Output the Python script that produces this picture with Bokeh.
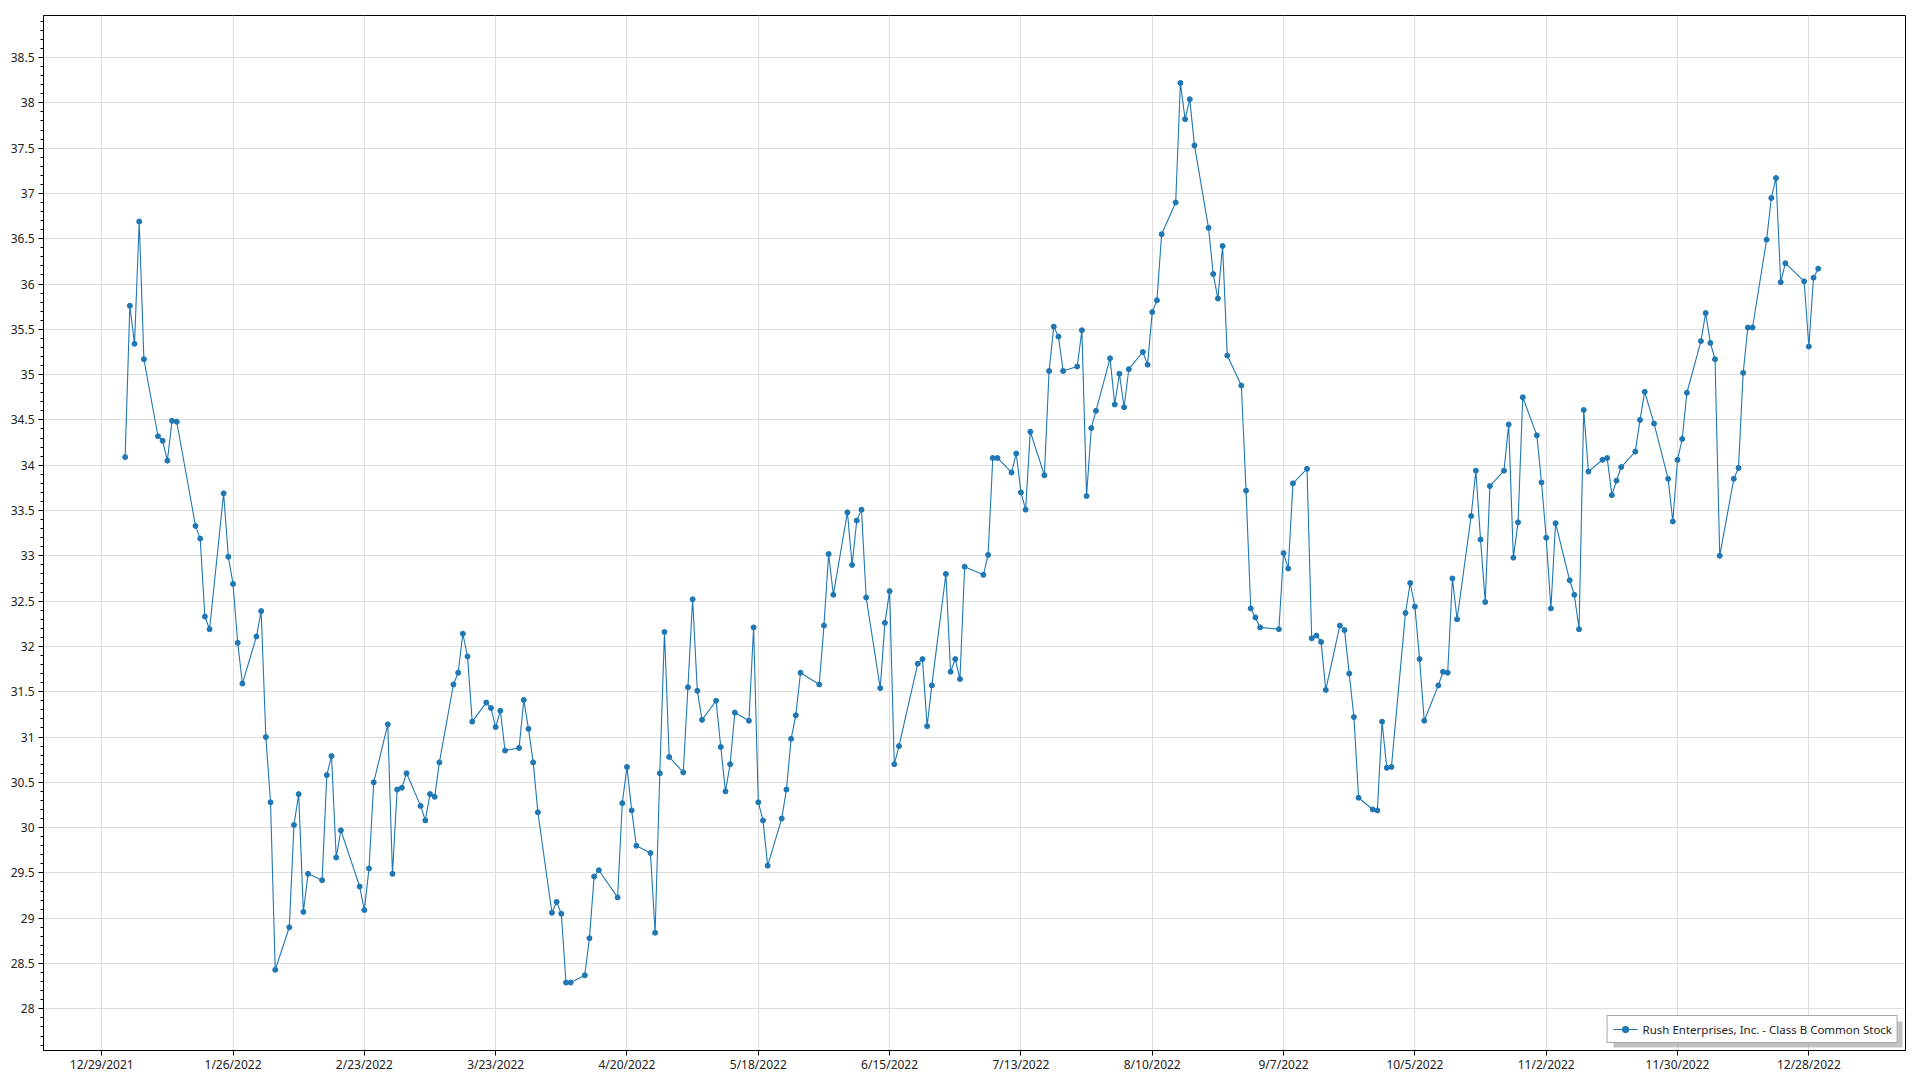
import pandas as pd
from bokeh.plotting import figure
from bokeh.models import (Range1d, FixedTicker, SingleIntervalTicker, BoxAnnotation,
                          NumeralTickFormatter, Legend, LegendItem, ColumnDataSource)
from bokeh.embed import file_html
from bokeh.resources import INLINE

SERIES_NAME = "Rush Enterprises, Inc. - Class B Common Stock"

# NYSE holidays 2022 (non-trading weekdays)
HOLIDAYS = ["2022-01-17", "2022-02-21", "2022-04-15", "2022-05-30", "2022-06-20",
            "2022-07-04", "2022-09-05", "2022-11-24", "2022-12-26"]

# Daily closing prices per month (trading days in order)
JAN = [34.09, 35.76, 35.34, 36.69, 35.17, 34.32, 34.27, 34.05, 34.49, 34.48,
       33.33, 33.19, 32.33, 32.19, 33.69, 32.99, 32.69, 32.04, 31.59, 32.11]
FEB = [32.39, 31.00, 30.28, 28.43, 28.90, 30.03, 30.37, 29.07, 29.49, 29.42,
       30.58, 30.79, 29.67, 29.97, 29.35, 29.09, 29.55, 30.50, 31.14]
MAR = [29.49, 30.42, 30.44, 30.60, 30.24, 30.08, 30.37, 30.34, 30.72, 31.58,
       31.71, 32.14, 31.89, 31.17, 31.38, 31.32, 31.11, 31.29, 30.85, 30.88,
       31.41, 31.09, 30.72]
APR = [30.17, 29.06, 29.18, 29.05, 28.29, 28.29, 28.37, 28.78, 29.46, 29.53,
       29.23, 30.27, 30.67, 30.19, 29.80, 29.72, 28.84, 30.60, 32.16, 30.78]
MAY = [30.61, 31.55, 32.52, 31.51, 31.19, 31.40, 30.89, 30.40, 30.70, 31.27,
       31.18, 32.21, 30.28, 30.08, 29.58, 30.10, 30.42, 30.98, 31.24, 31.71,
       31.58]
JUN = [32.23, 33.02, 32.57, 33.48, 32.90, 33.39, 33.51, 32.54, 31.54, 32.26,
       32.61, 30.70, 30.90, 31.81, 31.86, 31.12, 31.57, 32.80, 31.72, 31.86,
       31.64]
JUL = [32.88, 32.79, 33.01, 34.08, 34.08, 33.92, 34.13, 33.70, 33.51, 34.37,
       33.89, 35.04, 35.53, 35.42, 35.04, 35.09, 35.49, 33.66, 34.41, 34.60]
AUG = [35.18, 34.67, 35.01, 34.64, 35.06, 35.25, 35.11, 35.69, 35.82, 36.55,
       36.90, 38.22, 37.82, 38.04, 37.53, 36.62, 36.11, 35.84, 36.42, 35.21,
       34.88, 33.72, 32.42]
SEP = [32.32, 32.21, 32.19, 33.03, 32.86, 33.80, 33.96, 32.09, 32.12, 32.05,
       31.52, 32.23, 32.18, 31.70, 31.22, 30.33, 30.20, 30.19, 31.17, 30.66,
       30.67]
OCT = [32.37, 32.70, 32.44, 31.86, 31.18, 31.57, 31.72, 31.71, 32.75, 32.30,
       33.44, 33.94, 33.18, 32.49, 33.77, 33.94, 34.45, 32.98, 33.37, 34.75,
       34.33]
NOV = [33.81, 33.20, 32.42, 33.36, 32.73, 32.57, 32.19, 34.61, 33.93, 34.06,
       34.08, 33.67, 33.83, 33.98, 34.15, 34.50, 34.81, 34.46, 33.85, 33.38,
       34.06]
DEC = [34.29, 34.80, 35.37, 35.68, 35.35, 35.17, 33.00, 33.85, 33.97, 35.02,
       35.52, 35.52, 36.49, 36.95, 37.17, 36.02, 36.23, 36.03, 35.31, 36.07,
       36.17]

CLOSE = JAN + FEB + MAR + APR + MAY + JUN + JUL + AUG + SEP + OCT + NOV + DEC
DATES = pd.bdate_range("2022-01-03", "2022-12-30", freq="C", holidays=HOLIDAYS)

X_TICK_LABELS = ["12/29/2021", "1/26/2022", "2/23/2022", "3/23/2022", "4/20/2022",
                 "5/18/2022", "6/15/2022", "7/13/2022", "8/10/2022", "9/7/2022",
                 "10/5/2022", "11/2/2022", "11/30/2022", "12/28/2022"]

X_START = "2021-12-16 14:10"
X_END = "2023-01-17 14:40"
Y_MIN, Y_MAX = 27.54, 38.964


def to_ms(ts):
    return float(pd.Timestamp(ts).value // 10**6)


tick_ms = [to_ms(pd.to_datetime(s, format="%m/%d/%Y")) for s in X_TICK_LABELS]

n = min(len(DATES), len(CLOSE))
src = ColumnDataSource(dict(x=list(DATES[:n]), y=CLOSE[:n]))

FONT = "Noto Sans"
BLUE = "#1f77b4"

p = figure(width=1912, height=1076, title=None, x_axis_type="datetime",
           x_range=Range1d(to_ms(X_START), to_ms(X_END)),
           y_range=Range1d(Y_MIN, Y_MAX),
           output_backend="svg", toolbar_location=None,
           min_border_left=43, min_border_right=7, min_border_top=15,
           min_border_bottom=26)

p.outline_line_color = "black"
p.outline_line_width = 1
p.outline_line_alpha = 1
p.background_fill_color = "white"
p.border_fill_color = "white"

# Axes
xa = p.xaxis[0]
xa.ticker = FixedTicker(ticks=tick_ms, minor_ticks=[])
xa.major_label_overrides = {t: s for t, s in zip(tick_ms, X_TICK_LABELS)}
ya = p.yaxis[0]
ya.ticker = SingleIntervalTicker(interval=0.5, num_minor_ticks=5)
ya.formatter = NumeralTickFormatter(format="0.[0]")

for ax in (xa, ya):
    ax.axis_line_color = "black"
    ax.axis_line_width = 1
    ax.major_tick_line_color = "black"
    ax.minor_tick_line_color = "black"
    ax.major_tick_in = 0
    ax.major_tick_out = 5
    ax.minor_tick_in = 0
    ax.minor_tick_out = 3
    ax.major_label_text_font = FONT
    ax.major_label_text_font_size = "12px"
    ax.major_label_text_color = "#222222"
xa.major_label_standoff = 0
ya.major_label_standoff = 4

# Grid
p.xgrid.grid_line_color = "#dedede"
p.ygrid.grid_line_color = "#dedede"
p.xgrid.grid_line_width = 1
p.ygrid.grid_line_width = 1

line_r = p.line("x", "y", source=src, line_color=BLUE, line_width=1.1)
dot_r = p.scatter("x", "y", source=src, size=5, fill_color=BLUE, line_color=BLUE)

# soft drop shadow behind the legend box (screen units: x from frame left,
# y upward from frame bottom)
shadow = BoxAnnotation(left=1570, right=1859, top=29, bottom=3,
                       left_units="screen", right_units="screen",
                       top_units="screen", bottom_units="screen",
                       fill_color="#9a9a9a", fill_alpha=0.6, line_alpha=0)
p.add_layout(shadow)

legend = Legend(items=[LegendItem(label=SERIES_NAME, renderers=[line_r, dot_r])],
                location="bottom_right", margin=7, padding=5, spacing=0,
                glyph_width=25, glyph_height=16, label_height=16,
                label_standoff=5,
                label_text_font=FONT, label_text_font_size="11.5px",
                label_text_color="#222222",
                border_line_color="#505050", border_line_width=1.2,
                background_fill_color="white", background_fill_alpha=1)
p.add_layout(legend)

open("out.html", "w").write(file_html(p, INLINE))
